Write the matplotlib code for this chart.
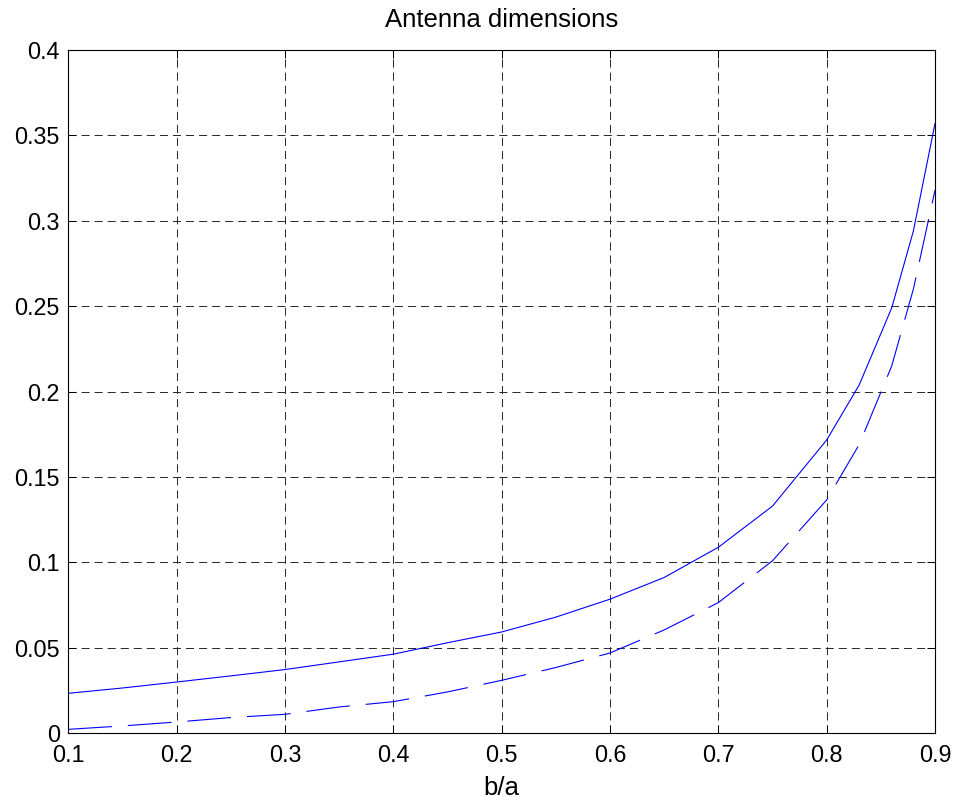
# ==============================================================================
# !/usr/bin/env python
# -*- coding:utf-8 -*-

# Antenna dimensions vs b/a

import matplotlib
matplotlib.use('Agg')
import matplotlib.pyplot as plt
import matplotlib as mpl

mpl.rcParams['font.family'] = ['Liberation Sans', 'DejaVu Sans']
mpl.rcParams['lines.scale_dashes'] = False

# ==============================================================================
# Data
b_over_a = [0.10, 0.15, 0.20, 0.25, 0.30, 0.35, 0.40, 0.45, 0.50, 0.55,
            0.60, 0.65, 0.70, 0.75, 0.80, 0.83, 0.86, 0.88, 0.90]

dim_solid = [0.0234, 0.0265, 0.0300, 0.0336, 0.0373, 0.0418, 0.0463, 0.0530,
             0.0593, 0.0680, 0.0785, 0.0912, 0.1089, 0.1330, 0.1717, 0.2039,
             0.2490, 0.2940, 0.3570]

dim_dashed = [0.0023, 0.0043, 0.0066, 0.0092, 0.0111, 0.0154, 0.0185, 0.0242,
              0.0310, 0.0385, 0.0470, 0.0605, 0.0765, 0.1010, 0.1366, 0.1690,
              0.2150, 0.2600, 0.3180]

x_ticks = [0.1, 0.2, 0.3, 0.4, 0.5, 0.6, 0.7, 0.8, 0.9]
y_ticks = [0, 0.05, 0.1, 0.15, 0.2, 0.25, 0.3, 0.35, 0.4]
x_ticklabels = ['0.1', '0.2', '0.3', '0.4', '0.5', '0.6', '0.7', '0.8', '0.9']
y_ticklabels = ['0', '0.05', '0.1', '0.15', '0.2', '0.25', '0.3', '0.35',
                '0.4']


# ==============================================================================
def main():

    fig = plt.figure(figsize=(9.6, 8.05), dpi=100)
    ax = fig.add_axes([0.0711, 0.0891, 0.9029, 0.8488])

    ax.plot(b_over_a, dim_solid, color='#0000ff', linewidth=0.8)
    ax.plot(b_over_a, dim_dashed, color='#0000ff', linewidth=0.8,
            dashes=(31.5, 11.5))

    ax.set_xlim(0.1, 0.9)
    ax.set_ylim(0, 0.4)
    ax.set_xticks(x_ticks)
    ax.set_xticklabels(x_ticklabels)
    ax.set_yticks(y_ticks)
    ax.set_yticklabels(y_ticklabels)

    # MATLAB-like box, inward ticks on all sides
    ax.tick_params(direction='in', length=6, width=0.75, labelsize=16.8,
                   top=True, right=True, colors='black')
    ax.tick_params(axis='x', pad=8)
    ax.tick_params(axis='y', pad=6)
    for sp in ax.spines.values():
        sp.set_linewidth(0.8)
        sp.set_color('black')

    ax.grid(True, color='#262626', linewidth=0.7, dashes=(5.8, 3.6))
    ax.set_axisbelow(True)

    ax.set_title('Antenna dimensions', fontsize=18.5, pad=16.5)
    ax.set_xlabel('b/a', fontsize=18.5, labelpad=6.5)

    fig.savefig('out.png', dpi=100, facecolor='white')


# ==============================================================================
if __name__ == '__main__':
    main()
